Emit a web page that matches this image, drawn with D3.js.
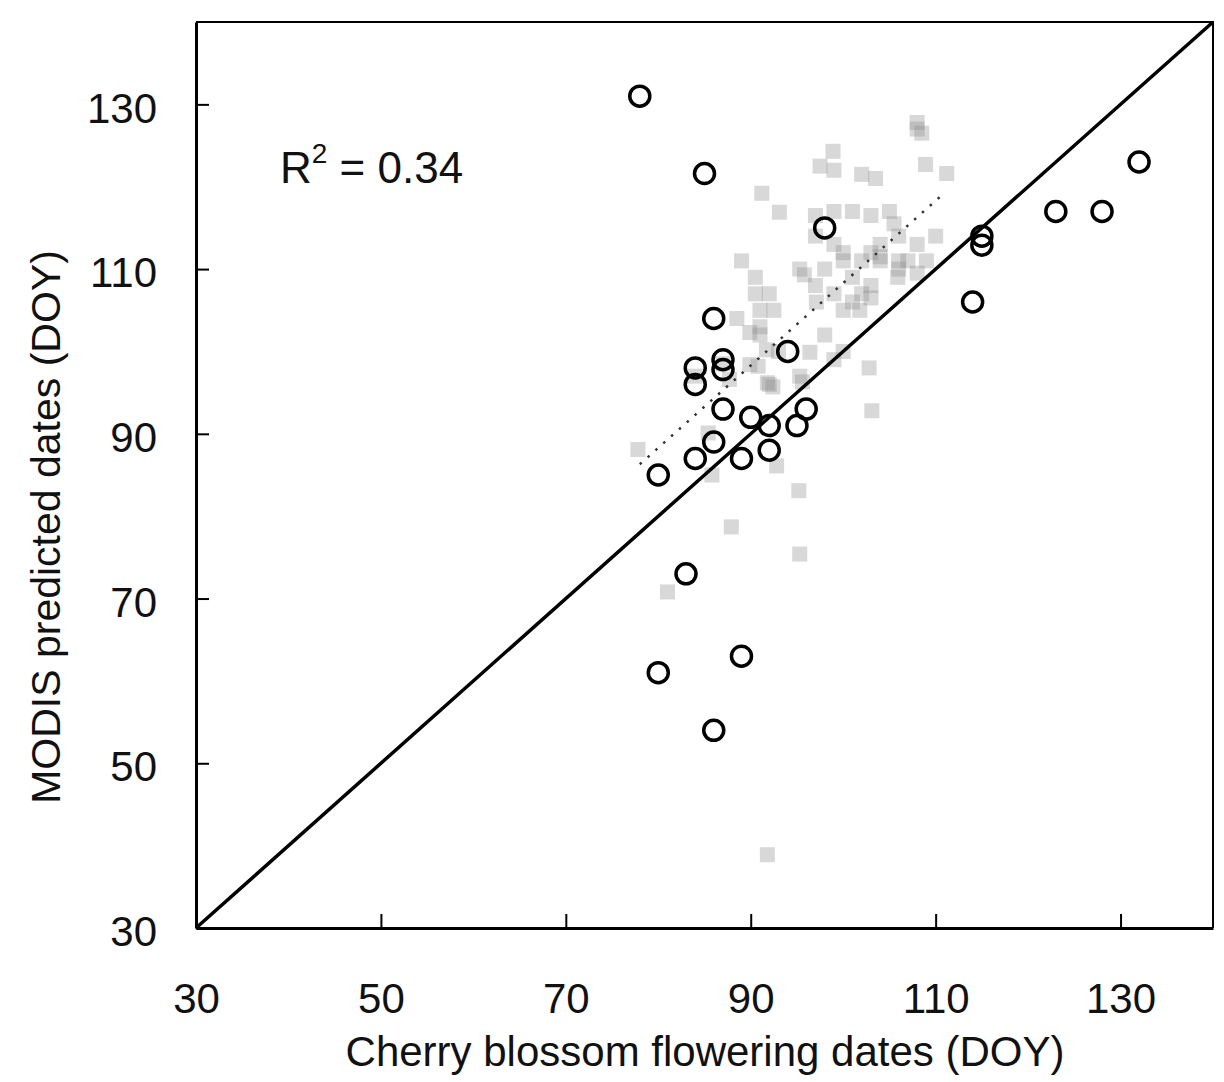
<!DOCTYPE html>
<html>
<head>
    <title>MODIS vs cherry blossom flowering dates</title>
    <script src="https://d3js.org/d3.v7.min.js"></script>
    <style>
        body { margin: 0; background: #fff; }
        text { font-family: "Liberation Sans", Arial, sans-serif; fill: #111; }
    </style>
</head>
<body>
    <script>
        // observed stations: [flowering DOY, MODIS predicted DOY]
        var stationPoints = [
            [78, 131], [85, 121.6], [98, 115], [115, 114], [115, 112.9], [114, 106],
            [123, 117], [128, 117], [132, 123], [86, 104], [84, 98], [84, 96],
            [87, 99], [87, 97.8], [94, 100], [87, 93], [90, 92], [96, 93],
            [92, 91], [95, 91], [86, 89], [84, 87], [89, 87], [92, 88],
            [80, 85], [83, 73], [80, 61], [89, 63], [86, 54]
        ];

        // gray pixel samples (halftone squares)
        var pixelPoints = [
            [108, 127], [108.5, 126.5], [108, 127.8], [98.9, 124.3], [97.5, 122.5], [99, 122],
            [102, 121.5], [103.5, 121], [108.9, 122.7], [111.2, 121.6], [91.2, 119.2], [93.1, 116.9],
            [97, 116.5], [99, 117], [101, 117], [103, 116.5], [105, 117], [105.5, 115.5],
            [97, 114], [99, 113], [104, 113], [106, 114], [108, 113], [110, 114],
            [104, 111], [107, 111], [100, 112], [103, 112], [106, 111], [109, 111],
            [89, 111], [95.8, 109.3], [95.3, 110], [98, 110], [100, 111], [102, 111],
            [104, 111.5], [106, 110], [108, 109.5], [101, 109], [103, 108], [105.9, 109],
            [97, 108], [99, 107], [101, 106], [103, 106.5], [100, 105], [102, 107],
            [90.5, 109], [92, 107], [91, 105], [90.5, 107], [92.5, 105], [91, 103],
            [97.1, 106], [101.8, 105], [88.5, 104], [89.9, 102.3], [91, 102], [93, 100],
            [91.7, 100.2], [98, 102], [100, 100], [99, 99], [96.4, 99.9], [89.9, 98.4],
            [90.8, 98.2], [91.8, 96.2], [95.3, 97], [95.6, 96.3], [92, 96], [102.8, 98],
            [103.1, 92.8], [87.7, 96.6], [92.4, 95.7], [84, 97], [87, 98.5], [85.4, 90.1],
            [77.8, 88.1], [85.8, 85], [92.8, 86.1], [95.2, 83.1], [87.9, 78.7], [95.3, 75.4],
            [91.8, 38.9], [81, 70.8]
        ];

        var oneToOne = [[30, 30], [140, 140]];
        var fitLine = [[78, 86.3], [110.5, 118.8]];
        var tickValues = [30, 50, 70, 90, 110, 130];
        var xTitle = "Cherry blossom flowering dates (DOY)";
        var yTitle = "MODIS predicted dates (DOY)";

        var svg = d3.select("body")
                    .append("svg")
                    .attr("width", 1224)
                    .attr("height", 1082);

        var x = d3.scaleLinear().domain([30, 140]).range([196, 1213]);
        var y = d3.scaleLinear().domain([30, 140]).range([928, 22]);

        // halftone-ish gray squares
        var sq = 15;
        svg.append("g")
           .selectAll("rect")
           .data(pixelPoints)
           .join("rect")
           .attr("x", d => x(d[0]) - sq / 2)
           .attr("y", d => y(d[1]) - sq / 2)
           .attr("width", sq)
           .attr("height", sq)
           .attr("fill", "#888")
           .attr("fill-opacity", 0.33);

        // dotted regression line
        var line = d3.line().x(d => x(d[0])).y(d => y(d[1]));
        svg.append("path")
           .attr("d", line(fitLine))
           .attr("fill", "none")
           .attr("stroke", "#333")
           .attr("stroke-width", 2.5)
           .attr("stroke-dasharray", "2.5,8");

        // 1:1 line
        svg.append("path")
           .attr("d", line(oneToOne))
           .attr("fill", "none")
           .attr("stroke", "#000")
           .attr("stroke-width", 3.5);

        // station circles
        svg.append("g")
           .selectAll("circle")
           .data(stationPoints)
           .join("circle")
           .attr("cx", d => x(d[0]))
           .attr("cy", d => y(d[1]))
           .attr("r", 10)
           .attr("fill", "none")
           .attr("stroke", "#000")
           .attr("stroke-width", 3.5);

        // axes
        var xAxis = svg.append("g")
                       .attr("transform", "translate(0,928)")
                       .call(d3.axisBottom(x).tickValues(tickValues).tickSize(-14).tickPadding(55).tickSizeOuter(0));
        var yAxis = svg.append("g")
                       .attr("transform", "translate(196,0)")
                       .call(d3.axisLeft(y).tickValues(tickValues).tickSize(-13).tickPadding(39).tickSizeOuter(0));

        [xAxis, yAxis].forEach(function (g) {
            g.select(".domain").attr("stroke", "#000").attr("stroke-width", 3);
            g.selectAll(".tick line").attr("stroke", "#000").attr("stroke-width", 2);
            g.selectAll(".tick text").attr("font-size", 42).attr("font-family", null).attr("fill", "#111");
        });
        yAxis.selectAll(".tick text").attr("dy", "0.42em");

        // top and right frame
        svg.append("path")
           .attr("d", `M${x(30)},${y(140)}H${x(140)}V${y(30)}`)
           .attr("fill", "none")
           .attr("stroke", "#000")
           .attr("stroke-width", 2);

        // R² annotation
        var r2 = svg.append("text")
                    .attr("x", 280)
                    .attr("y", 183)
                    .attr("font-size", 44);
        r2.append("tspan").text("R");
        r2.append("tspan").attr("font-size", 28).attr("dy", -20).text("2");
        r2.append("tspan").attr("dy", 20).text(" = 0.34");

        // axis titles
        svg.append("text")
           .attr("x", 705)
           .attr("y", 1066)
           .attr("text-anchor", "middle")
           .attr("font-size", 42)
           .text(xTitle);

        svg.append("text")
           .attr("transform", "translate(60,527) rotate(-90)")
           .attr("text-anchor", "middle")
           .attr("font-size", 41)
           .text(yTitle);
    </script>
</body>
</html>
